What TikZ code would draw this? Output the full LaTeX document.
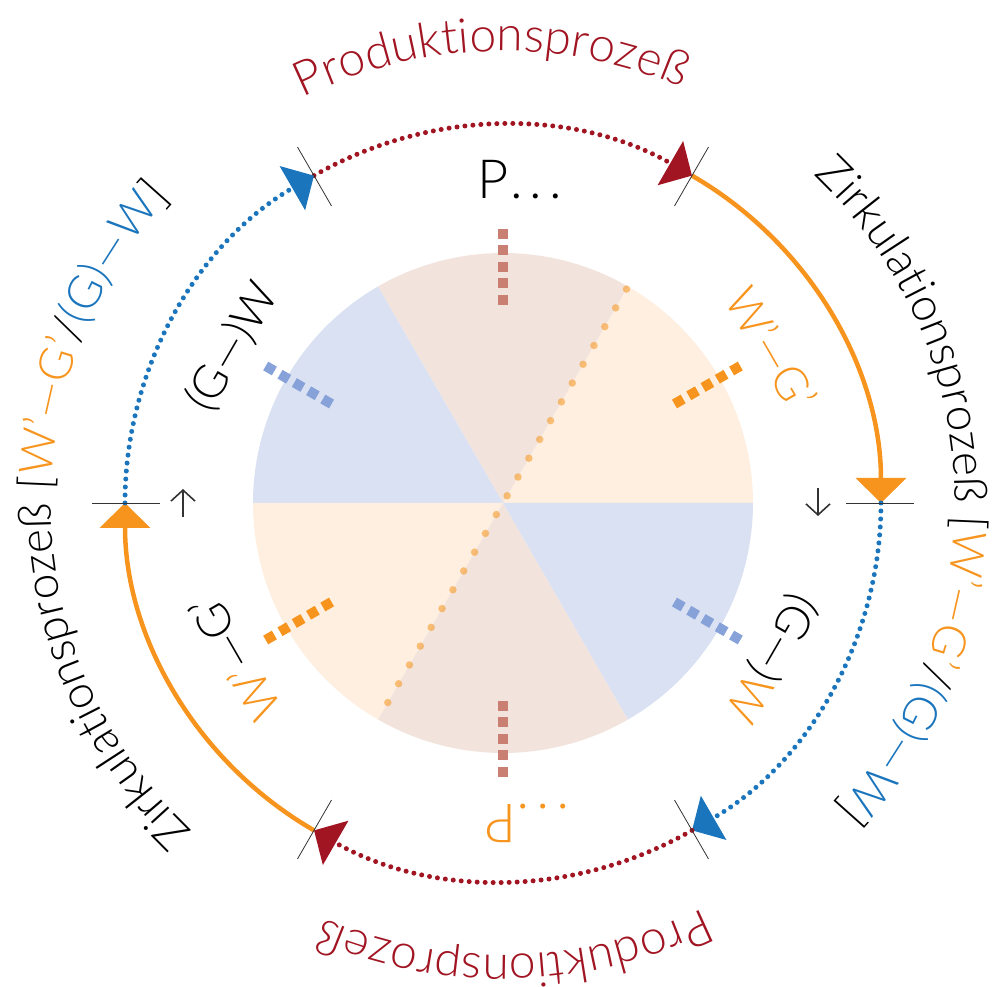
\documentclass[tikz,border=0pt]{standalone}
\usepackage{fontspec}
\setmainfont{Lato Light}
\usetikzlibrary{arrows.meta,decorations.text}

\definecolor{prodred}{HTML}{A11422}
\definecolor{zirkorange}{HTML}{F7941D}
\definecolor{zirkblue}{HTML}{1B75BC}
\definecolor{sectbrown}{HTML}{F2E4DD}
\definecolor{sectorange}{HTML}{FEEFE0}
\definecolor{sectblue}{HTML}{DAE1F2}
\definecolor{barbrown}{HTML}{C98072}
\definecolor{barblue}{HTML}{86A2D8}
\definecolor{tickgray}{HTML}{333333}

\newcommand\ringfont{\fontsize{48}{58}\selectfont}
\newcommand\sidefont{\fontsize{46}{56}\selectfont}
\newcommand\labelfont{\fontsize{46}{56}\selectfont}
\newcommand\pfont{\fontsize{54}{60}\selectfont}

\tikzset{
  dotline/.style={line width=5, line cap=round, dash pattern=on 0pt off 8pt},
  solidline/.style={line width=4.5},
  bigtip/.style={-{Triangle[length=25pt,width=50pt]}},
  tickline/.style={tickgray, line width=0.8},
  barline/.style={line width=10, dash pattern=on 10pt off 6.5pt},
  smalltip/.style={tickgray, line width=1.6, -{Straight Barb[length=11pt,width=24pt]}},
}

\begin{document}
\begin{tikzpicture}[x=1pt,y=1pt]
  \useasboundingbox (-503,-484) rectangle (493,503);

  % sectors
  \fill[sectorange] (0,0) -- (0:250) arc[start angle=0, end angle=60, radius=250] -- cycle;
  \fill[sectbrown] (0,0) -- (60:250) arc[start angle=60, end angle=120, radius=250] -- cycle;
  \fill[sectblue] (0,0) -- (120:250) arc[start angle=120, end angle=180, radius=250] -- cycle;
  \fill[sectorange] (0,0) -- (180:250) arc[start angle=180, end angle=240, radius=250] -- cycle;
  \fill[sectbrown] (0,0) -- (240:250) arc[start angle=240, end angle=300, radius=250] -- cycle;
  \fill[sectblue] (0,0) -- (300:250) arc[start angle=300, end angle=360, radius=250] -- cycle;

  \draw[zirkorange, opacity=0.55, line width=7.5, line cap=round,
    dash pattern=on 0pt off 21.7pt] (60:247) -- (240:247);

  % bars
  \draw[barbrown, barline] (90:198) -- (90:275);
  \draw[zirkorange, barline] (30:198) -- (30:275);
  \draw[barblue, barline] (150:198) -- (150:275);
  \draw[barbrown, barline] (270:198) -- (270:275);
  \draw[zirkorange, barline] (210:198) -- (210:275);
  \draw[barblue, barline] (330:198) -- (330:275);

  % inner labels
  \node[font=\pfont, inner sep=0pt] (ptop) at (17,323) {P\kern1pt.\kern7pt.\kern7pt.};
  \node[font=\pfont, inner sep=0pt, text=zirkorange, rotate=180] (pbot) at (24,-320) {.\kern7pt.\kern7pt.\kern1pt P};
  \node[font=\labelfont, text=zirkorange, rotate=-60] (wgtop) at (30:310) {W'—G'};
  \node[font=\labelfont, rotate=60] (gwtop) at (150:312) {(G—)W};
  \node[font=\labelfont, rotate=240] (gwbot) at (330:310) {(G—)\textcolor{zirkorange}{W}};
  \node[font=\labelfont, rotate=120] (wgbot) at (210:310) {\textcolor{zirkorange}{W'}—G'};

  % small arrows
  \coordinate (downA) at (315,15);
  \coordinate (downB) at (315,-13);
  \coordinate (upA) at (-320,-14);
  \coordinate (upB) at (-320,14);
  \draw[smalltip] (downA) -- (downB);
  \draw[smalltip] (upA) -- (upB);

  % ring
  \coordinate (a0) at (0:378);
  \coordinate (a60) at (60:378);
  \coordinate (a120) at (120:378);
  \coordinate (a180) at (180:378);
  \coordinate (a240) at (240:378);
  \coordinate (a300) at (300:378);
  \draw[prodred, dotline, bigtip] (a120) arc[start angle=120, end angle=60, radius=378];
  \draw[zirkorange, solidline, bigtip] (a60) arc[start angle=60, end angle=0, radius=378];
  \draw[zirkblue, dotline, bigtip] (a0) arc[start angle=0, end angle=-60, radius=378];
  \draw[prodred, dotline, bigtip] (a300) arc[start angle=300, end angle=240, radius=378];
  \draw[zirkorange, solidline, bigtip] (a240) arc[start angle=240, end angle=180, radius=378];
  \draw[zirkblue, dotline, bigtip] (a180) arc[start angle=180, end angle=120, radius=378];

  % ticks
  \draw[tickline] (0:343) -- (0:411);
  \draw[tickline] (60:343) -- (60:411);
  \draw[tickline] (120:343) -- (120:411);
  \draw[tickline] (180:343) -- (180:411);
  \draw[tickline] (240:343) -- (240:411);
  \draw[tickline] (300:343) -- (300:411);

  % ring texts
  \path[decorate, decoration={text along path, text align=center,
    text={|\ringfont\color{prodred}|Produktionsprozeß}}]
    (131.5:452) arc[start angle=131.5, end angle=51.5, radius=452];
  \path[decorate, decoration={text along path, text align=center,
    text={|\ringfont\color{prodred}|Produktionsprozeß}}]
    (311.5:452) arc[start angle=311.5, end angle=231.5, radius=452];
  \path[decorate, decoration={text along path, text align=center,
    text={|\sidefont\color{black}|Zirkulationsprozeß [|\sidefont\color{zirkorange}|W'—G'|\sidefont\color{black}|/|\sidefont\color{zirkblue}|(G)—W|\sidefont\color{black}|]}}]
    (75:452) arc[start angle=75, end angle=-71, radius=452];
  \path[decorate, decoration={text along path, text align=center,
    text={|\sidefont\color{black}|Zirkulationsprozeß [|\sidefont\color{zirkorange}|W'—G'|\sidefont\color{black}|/|\sidefont\color{zirkblue}|(G)—W|\sidefont\color{black}|]}}]
    (255:452) arc[start angle=255, end angle=109, radius=452];
\end{tikzpicture}
\end{document}
